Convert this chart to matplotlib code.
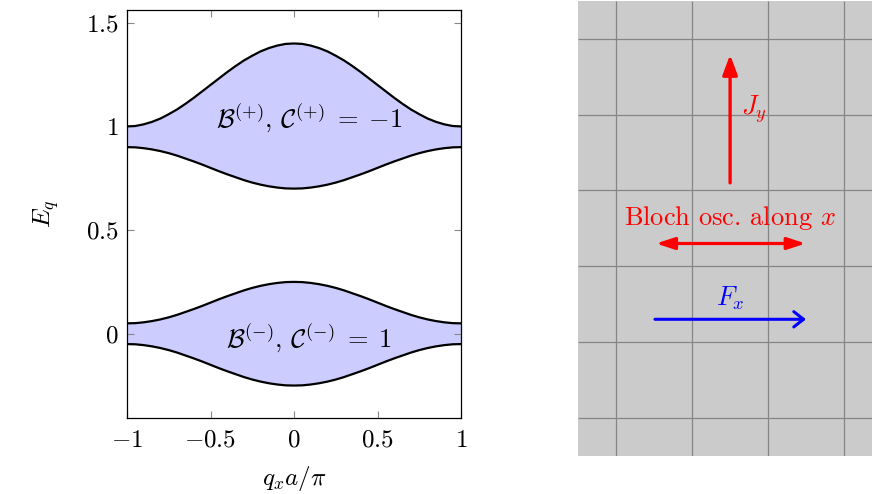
import matplotlib
matplotlib.use("Agg")
import matplotlib.pyplot as plt
import numpy as np

plt.rcParams['mathtext.fontset'] = 'cm'
plt.rcParams['font.family'] = 'serif'
plt.rcParams['font.serif'] = ['cmr10']
plt.rcParams['axes.formatter.use_mathtext'] = True

# band edges, for q_x a / pi = 0 .. 1 (the bands are symmetric)
q_half = [0.0, 0.05, 0.1, 0.15, 0.2, 0.25, 0.3, 0.35, 0.4, 0.45, 0.5,
          0.55, 0.6, 0.65, 0.7, 0.75, 0.8, 0.85, 0.9, 0.95, 1.0]
upper_top = [1.400, 1.398, 1.390, 1.378, 1.362, 1.341, 1.318, 1.291, 1.262, 1.231, 1.200,
             1.169, 1.138, 1.109, 1.082, 1.059, 1.038, 1.022, 1.010, 1.002, 1.000]
upper_bot = [0.700, 0.701, 0.705, 0.711, 0.719, 0.729, 0.741, 0.755, 0.769, 0.784, 0.800,
             0.816, 0.831, 0.845, 0.859, 0.871, 0.881, 0.889, 0.895, 0.899, 0.900]
lower_top = [0.250, 0.249, 0.245, 0.239, 0.231, 0.221, 0.209, 0.195, 0.181, 0.166, 0.150,
             0.134, 0.119, 0.105, 0.091, 0.079, 0.069, 0.061, 0.055, 0.051, 0.050]
lower_bot = [-0.250, -0.249, -0.245, -0.239, -0.231, -0.221, -0.209, -0.195, -0.181, -0.166, -0.150,
             -0.134, -0.119, -0.105, -0.091, -0.079, -0.069, -0.061, -0.055, -0.051, -0.050]

x_ticks = [-1, -0.5, 0, 0.5, 1]
x_ticklabels = ['$-1$', '$-0.5$', '$0$', '$0.5$', '$1$']
y_ticks = [0, 0.5, 1, 1.5]
y_ticklabels = ['$0$', '$0.5$', '$1$', '$1.5$']


def mirror(v):
    v = np.array(v)
    return np.concatenate([v[::-1], v[1:]])


q = np.concatenate([-np.array(q_half)[::-1], np.array(q_half)[1:]])

fig = plt.figure(figsize=(8.72, 4.94), dpi=100)

# ---- band structure ----
ax = fig.add_axes([127/872, 1 - 418.3/494, 334/872, 408.6/494])
fill_c = '#ccccff'
ax.fill_between(q, mirror(upper_bot), mirror(upper_top), color=fill_c, lw=0)
ax.fill_between(q, mirror(lower_bot), mirror(lower_top), color=fill_c, lw=0)
for band in [upper_top, upper_bot, lower_top, lower_bot]:
    ax.plot(q, mirror(band), color='black', lw=1.6)

ax.text(0.09, 1.04, r'$\mathcal{B}^{(+)},\,\mathcal{C}^{(+)}\;=\;{-1}$', fontsize=19,
        ha='center', va='center')
ax.text(0.09, -0.02, r'$\mathcal{B}^{(-)},\,\mathcal{C}^{(-)}\;=\;1$', fontsize=19,
        ha='center', va='center')

ax.set_xlim(-1, 1)
ax.set_ylim(-0.408, 1.563)
ax.set_xticks(x_ticks)
ax.set_xticklabels(x_ticklabels)
ax.set_yticks(y_ticks)
ax.set_yticklabels(y_ticklabels)
ax.tick_params(direction='in', top=True, right=True, length=5, width=0.8,
               color='#888888', labelsize=18)
ax.tick_params(axis='x', pad=8)
ax.tick_params(axis='y', pad=6)
ax.set_xlabel(r'$q_xa/\pi$', fontsize=18, labelpad=9)
ax.set_ylabel(r'$E_q$', fontsize=18, labelpad=18)
for s in ax.spines.values():
    s.set_linewidth(0.9)

# ---- schematic on the lattice ----
ax2 = fig.add_axes([578.3/872, 1 - 455.7/494, 303.6/872, 454.7/494])
ax2.set_xlim(0, 4)
ax2.set_ylim(0, 6)
ax2.set_facecolor('#cbcbcb')
for s in ax2.spines.values():
    s.set_visible(False)
ax2.set_xticks([])
ax2.set_yticks([])
grid_c = '#858585'
ax2.vlines([0.5, 1.5, 2.5, 3.5], 0, 6, color=grid_c, lw=0.9)
ax2.hlines([0.5, 1.5, 2.5, 3.5, 4.5, 5.5], 0, 4, color=grid_c, lw=0.9)

ax2.annotate('', xy=(2.0, 5.29), xytext=(2.0, 3.6),
             arrowprops=dict(arrowstyle='-|>,head_length=1.2,head_width=0.45',
                             color='red', lw=2.4, shrinkA=0, shrinkB=0,
                             mutation_scale=10))
ax2.text(2.15, 4.57, r'$J_y$', color='red', fontsize=19, ha='left', va='center')

ax2.text(2.0, 3.14, r'Bloch osc. along $x$', color='red', fontsize=19,
         ha='center', va='center')
ax2.annotate('', xy=(2.995, 2.8), xytext=(1.025, 2.8),
             arrowprops=dict(arrowstyle='<|-|>,head_length=1.1,head_width=0.36',
                             color='red', lw=2.3, shrinkA=0, shrinkB=0,
                             mutation_scale=10))

ax2.text(2.0, 2.08, r'$F_x$', color='blue', fontsize=19, ha='center', va='center')
ax2.annotate('', xy=(3.0, 1.8), xytext=(1.01, 1.8),
             arrowprops=dict(arrowstyle='->,head_length=0.7,head_width=0.55',
                             color='blue', lw=2.2, shrinkA=0, shrinkB=0,
                             mutation_scale=10))

fig.savefig('out.png', dpi=100)
